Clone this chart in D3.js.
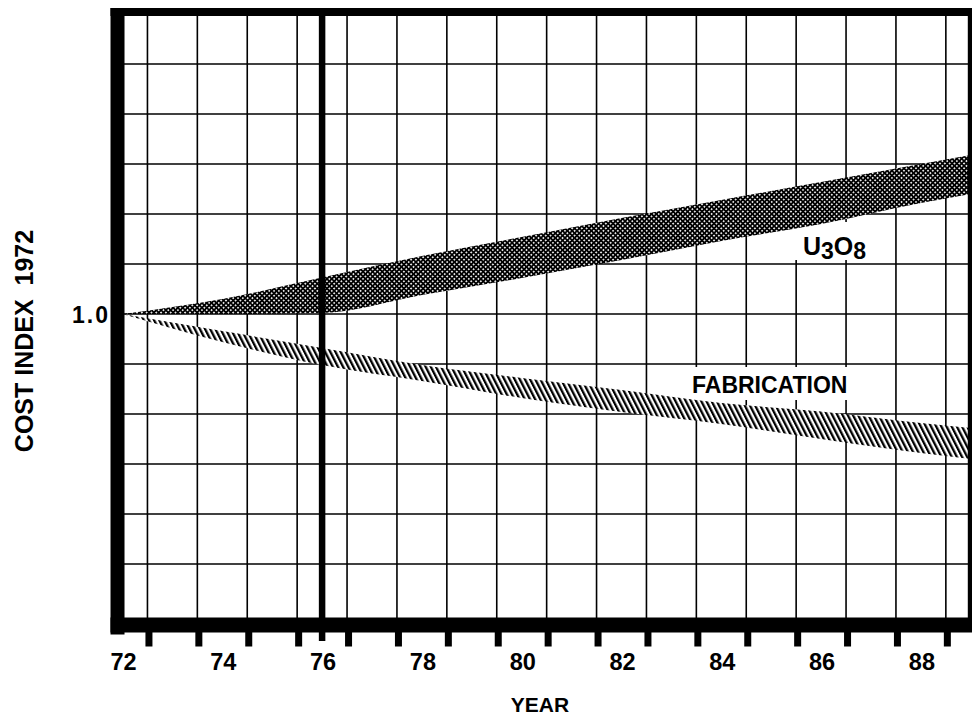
<!DOCTYPE html>
<html><head><meta charset="utf-8">
<script src="https://cdn.jsdelivr.net/npm/d3@7"></script>
<style>
body{margin:0;background:#fff}
svg{display:block}
text{font-family:"Liberation Sans",Arial,Helvetica,sans-serif;fill:#000}
</style>
</head><body><svg id="c" width="972" height="717"></svg>
<script>
// ---- data ----
const years      = [72, 74, 76, 78, 80, 82, 84, 86, 88, 89];
const u3o8Upper  = [1.000, 1.030, 1.073, 1.116, 1.154, 1.192, 1.228, 1.264, 1.300, 1.318];
const u3o8Lower  = [1.000, 1.000, 1.002, 1.038, 1.072, 1.108, 1.146, 1.180, 1.222, 1.240];
const fabUpper   = [1.000, 0.966, 0.932, 0.898, 0.872, 0.848, 0.822, 0.805, 0.782, 0.772];
const fabLower   = [1.000, 0.944, 0.898, 0.866, 0.832, 0.804, 0.780, 0.750, 0.722, 0.710];
const xLabels    = [72, 74, 76, 78, 80, 82, 84, 86, 88];
const xTickYears = [72.5, 73.5, 74.5, 75.5, 76.5, 77.5, 78.5, 79.5, 80.5, 81.5, 82.5, 83.5, 84.5, 85.5, 86.5, 87.5, 88.5];
const yGrid      = [0.5, 0.6, 0.7, 0.8, 0.9, 1.0, 1.1, 1.2, 1.3, 1.4, 1.5];
const yLabels    = [1.0];
const markerYear = 76;

const svg = d3.select("#c");
const x = d3.scaleLinear().domain([72, 89]).range([122.5, 122.5 + 17 * 49.9]);
const y = d3.scaleLinear().domain([0.4, 1.6]).range([614, 14]);

const xLeft = x(71.9), xRight = 972;
const yTop = y(1.6) - 2, yBot = y(0.4) + 5.5;

// patterns
const defs = svg.append("defs");
const cross = defs.append("pattern").attr("id", "cross").attr("patternUnits", "userSpaceOnUse")
  .attr("width", 3.4).attr("height", 3.4).attr("patternTransform", "rotate(45)");
cross.append("rect").attr("width", 3.4).attr("height", 3.4).attr("fill", "#000");
cross.append("rect").attr("x", 0.9).attr("y", 0.9).attr("width", 1.6).attr("height", 1.6).attr("fill", "#fff");

const hatch = defs.append("pattern").attr("id", "hatch").attr("patternUnits", "userSpaceOnUse")
  .attr("width", 4.6).attr("height", 10).attr("patternTransform", "rotate(-27)");
hatch.append("rect").attr("width", 4.6).attr("height", 10).attr("fill", "#fff");
hatch.append("rect").attr("x", 0).attr("y", 0).attr("width", 2.3).attr("height", 10).attr("fill", "#000");

// grid
const g = svg.append("g");
g.selectAll("line.v").data(xTickYears).join("line")
  .attr("x1", d => x(d)).attr("x2", d => x(d))
  .attr("y1", yTop).attr("y2", yBot)
  .attr("stroke", "#000").attr("stroke-width", 1.6);
g.selectAll("line.h").data(yGrid).join("line")
  .attr("x1", xLeft).attr("x2", xRight)
  .attr("y1", d => y(d)).attr("y2", d => y(d))
  .attr("stroke", "#000").attr("stroke-width", 1.6);

// label backgrounds
svg.append("rect").attr("x", 795).attr("y", 222).attr("width", 77).attr("height", 38).attr("fill", "#fff");
svg.append("rect").attr("x", 683).attr("y", 367).attr("width", 172).attr("height", 33).attr("fill", "#fff");

// bands
const u3o8 = years.map((d, i) => ({yr: d, lo: u3o8Lower[i], hi: u3o8Upper[i]}));
const fab  = years.map((d, i) => ({yr: d, lo: fabLower[i], hi: fabUpper[i]}));
const area = d3.area().x(d => x(d.yr)).y0(d => y(d.lo)).y1(d => y(d.hi)).curve(d3.curveMonotoneX);
svg.append("path").datum(u3o8).attr("d", area).attr("fill", "url(#cross)");
svg.append("path").datum(fab).attr("d", area).attr("fill", "url(#hatch)");

// 1976 marker line
svg.append("line").attr("x1", x(markerYear)).attr("x2", x(markerYear))
  .attr("y1", yTop).attr("y2", 641).attr("stroke", "#000").attr("stroke-width", 6.5);

// frame
svg.append("rect").attr("x", xLeft - 7).attr("y", yTop - 4).attr("width", 14).attr("height", yBot + 15 - (yTop - 4)).attr("fill", "#000");
svg.append("rect").attr("x", xLeft - 7).attr("y", yTop - 4).attr("width", xRight - xLeft + 7).attr("height", 8).attr("fill", "#000");
svg.append("rect").attr("x", xLeft - 7).attr("y", yBot - 2).attr("width", xRight - xLeft + 7).attr("height", 15).attr("fill", "#000");
svg.append("line").attr("x1", x(89)).attr("x2", x(89)).attr("y1", yTop).attr("y2", yBot)
  .attr("stroke", "#000").attr("stroke-width", 6);

// bottom ticks
svg.selectAll("rect.tk").data(xTickYears).join("rect")
  .attr("x", d => x(d) - 2).attr("y", yBot + 12).attr("width", 7).attr("height", 15).attr("fill", "#000");

// tick labels
svg.selectAll("text.xl").data(xLabels).join("text")
  .attr("x", d => x(d) + 1).attr("y", 670).attr("text-anchor", "middle")
  .attr("font-size", 23.5).attr("font-weight", "bold").text(d => d);
svg.selectAll("text.yl").data(yLabels).join("text")
  .attr("x", 110).attr("y", y(1.0) + 8.5).attr("text-anchor", "end")
  .attr("font-size", 23).attr("font-weight", "bold").attr("letter-spacing", 2).text(d => d.toFixed(1));

// axis titles
svg.append("text").attr("x", 540).attr("y", 712).attr("text-anchor", "middle")
  .attr("font-size", 21).attr("font-weight", "bold").text("YEAR");
svg.append("text").attr("transform", "translate(33,341) rotate(-90)").attr("text-anchor", "middle")
  .attr("font-size", 25).attr("font-weight", "bold").attr("xml:space", "preserve")
  .text("COST INDEX  1972");

// series labels
svg.append("text").attr("x", 692).attr("y", 393).attr("font-size", 23).attr("font-weight", "bold").text("FABRICATION");
const ut = svg.append("text").attr("x", 803).attr("y", 255).attr("font-size", 25).attr("font-weight", "bold");
ut.append("tspan").text("U");
ut.append("tspan").attr("font-size", 23).attr("dy", 4).text("3");
ut.append("tspan").attr("dy", -4).text("O");
ut.append("tspan").attr("font-size", 23).attr("dy", 4).text("8");
</script>
</body></html>
